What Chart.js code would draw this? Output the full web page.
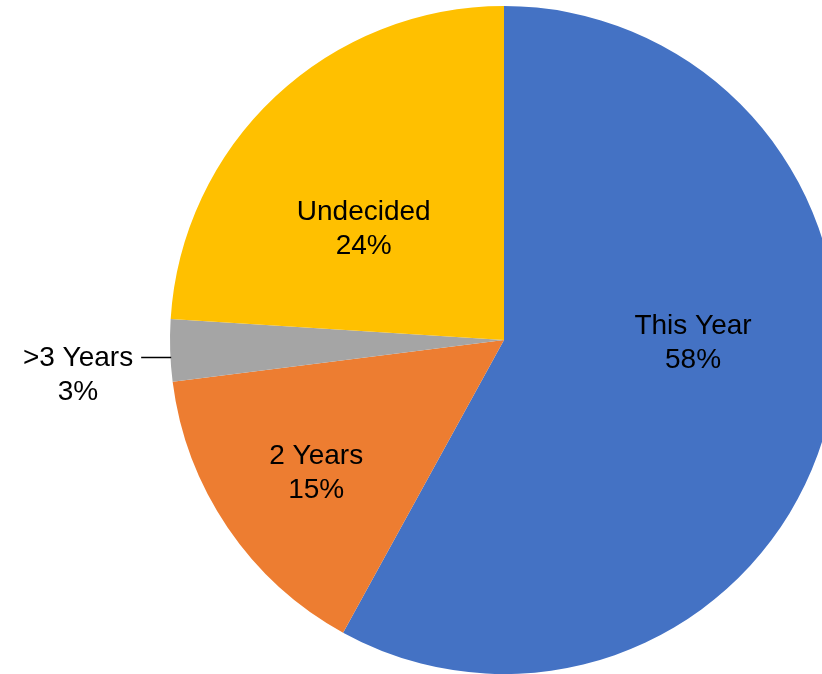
<!DOCTYPE html>
<html>
<head>
<meta charset="utf-8">
<style>
  html, body { margin: 0; padding: 0; background: #fff; overflow: hidden; width: 822px; height: 674px; }
  #wrap { position: absolute; left: 0; top: 0; width: 900px; height: 700px; }
</style>
<script src="https://cdn.jsdelivr.net/npm/chart.js@4/dist/chart.umd.min.js"></script>
</head>
<body>
<div id="wrap"><canvas id="pie" width="900" height="700"></canvas></div>
<script>
const categories = ["This Year", "2 Years", ">3 Years", "Undecided"];
const shares = [58, 15, 3, 24];
const sliceColors = ["#4472C4", "#ED7D31", "#A5A5A5", "#FFC000"];

// where each label sits: angle (deg clockwise from top) and distance as fraction of radius
const labelAngle = [91, 234.7, 268.2, 308.4];
const labelDist = [0.566, 0.689, 1.0, 0.536];
const outside = [false, false, true, false];

const labelPlugin = {
  id: "sliceLabels",
  afterDatasetsDraw(chart) {
    const ctx = chart.ctx;
    const meta = chart.getDatasetMeta(0);
    ctx.save();
    ctx.font = "28px 'Liberation Sans', Arial, sans-serif";
    ctx.fillStyle = "#000";
    ctx.textBaseline = "middle";
    meta.data.forEach((arc, i) => {
      const p = arc.getProps(["x", "y", "outerRadius"], true);
      const a = (labelAngle[i] - 90) * Math.PI / 180;
      const text = [categories[i], shares[i] + "%"];
      if (!outside[i]) {
        const cx = p.x + Math.cos(a) * p.outerRadius * labelDist[i];
        const cy = p.y + Math.sin(a) * p.outerRadius * labelDist[i];
        ctx.textAlign = "center";
        ctx.fillText(text[0], cx, cy - 17);
        ctx.fillText(text[1], cx, cy + 17);
      } else {
        // leader line out to the left of the slice
        const ex = p.x + Math.cos(a) * p.outerRadius;
        const ey = p.y + Math.sin(a) * p.outerRadius + 7;
        ctx.strokeStyle = "#000";
        ctx.lineWidth = 1.5;
        ctx.beginPath();
        ctx.moveTo(ex + 1, ey);
        ctx.lineTo(ex - 29, ey);
        ctx.stroke();
        const w = ctx.measureText(text[0]).width;
        const tx = ex - 37 - w / 2;
        ctx.textAlign = "center";
        ctx.fillText(text[0], tx, ey + 1);
        ctx.fillText(text[1], tx, ey + 35);
      }
    });
    ctx.restore();
  }
};

new Chart(document.getElementById("pie").getContext("2d"), {
  type: "pie",
  data: {
    labels: categories,
    datasets: [{
      data: shares,
      backgroundColor: sliceColors,
      borderWidth: 0
    }]
  },
  options: {
    responsive: false,
    animation: false,
    devicePixelRatio: 1,
    layout: { padding: { left: 170, top: 6, right: 62, bottom: 26 } },
    plugins: {
      legend: { display: false },
      tooltip: { enabled: false }
    }
  },
  plugins: [labelPlugin]
});
</script>
</body>
</html>
